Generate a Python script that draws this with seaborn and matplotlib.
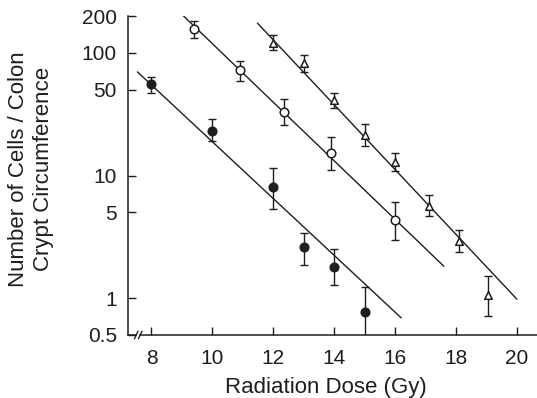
import matplotlib
matplotlib.use("Agg")
import matplotlib.pyplot as plt
from matplotlib.ticker import NullLocator
import numpy as np
import pandas as pd
import seaborn as sns

# Surviving cells per colon crypt circumference after irradiation
filled_dose = [8, 10, 12, 13, 14, 15]
filled_cells = [56, 23, 8.1, 2.6, 1.8, 0.77]
filled_lo = [47, 19, 5.3, 1.85, 1.27, 0.4]
filled_hi = [64, 29, 11.6, 3.4, 2.5, 1.23]

open_dose = [9.4, 10.9, 12.35, 13.9, 16.0]
open_cells = [157, 73, 33, 15.4, 4.3]
open_lo = [132, 59, 26, 11, 2.96]
open_hi = [182, 86, 42, 20.8, 6.1]

tri_dose = [12, 13, 14, 15, 16, 17.1, 18.1, 19.05]
tri_cells = [121, 83, 41.5, 21.5, 12.8, 5.6, 2.9, 1.06]
tri_lo = [106, 70, 35.7, 17.5, 10.8, 4.7, 2.37, 0.71]
tri_hi = [140, 96, 47, 26.5, 15.4, 6.9, 3.57, 1.51]

# Fitted survival lines (end points)
filled_fit_dose = [7.54, 16.2]
filled_fit_cells = [70, 0.69]
open_fit_dose = [8.89, 17.6]
open_fit_cells = [219, 1.82]
tri_fit_dose = [11.48, 20.0]
tri_fit_cells = [175, 0.98]

y_ticks = [0.5, 1, 5, 10, 50, 100, 200]
y_tick_labels = ["0.5", "1", "5", "10", "50", "100", "200"]
x_ticks = [8, 10, 12, 14, 16, 18, 20]

ink = "#1e1e1e"

sns.set_style("ticks")
plt.rcParams["font.family"] = ["Liberation Sans", "DejaVu Sans"]
plt.rcParams["text.color"] = ink
plt.rcParams["axes.edgecolor"] = ink
plt.rcParams["xtick.color"] = ink
plt.rcParams["ytick.color"] = ink

W, H = 537, 398
fig = plt.figure(figsize=(W / 100, H / 100), dpi=100)
ax = fig.add_axes([128 / W, 1 - 335 / H, 409 / W, 319 / H])

series = [
    (filled_dose, filled_cells, filled_lo, filled_hi, filled_fit_dose, filled_fit_cells, "o", ink, 38),
    (open_dose, open_cells, open_lo, open_hi, open_fit_dose, open_fit_cells, "o", "white", 38),
    (tri_dose, tri_cells, tri_lo, tri_hi, tri_fit_dose, tri_fit_cells, "^", "white", 30),
]

for dose, cells, lo, hi, fdose, fcells, mk, face, size in series:
    fit = pd.DataFrame({"dose": fdose, "cells": fcells})
    sns.lineplot(data=fit, x="dose", y="cells", ax=ax, color=ink,
                 linewidth=1.0, zorder=2, estimator=None, sort=True)
    cells_a = np.asarray(cells)
    yerr = np.vstack([cells_a - np.asarray(lo), np.asarray(hi) - cells_a])
    ax.errorbar(dose, cells, yerr=yerr, fmt="none", ecolor=ink,
                elinewidth=1.0, capsize=3.2, capthick=1.0, zorder=3,
                clip_on=True)
    pts = pd.DataFrame({"dose": dose, "cells": cells})
    sns.scatterplot(data=pts, x="dose", y="cells", ax=ax, marker=mk,
                    s=size, color=face, edgecolor=ink, linewidth=1.1,
                    zorder=4)

ax.set_yscale("log")
ax.set_ylim(0.5, 200)
ax.set_xlim(7.23, 20.66)
ax.set_yticks(y_ticks)
ax.set_yticklabels(y_tick_labels)
ax.yaxis.set_minor_locator(NullLocator())
ax.set_xticks(x_ticks)
ax.set_xticklabels([str(t) for t in x_ticks])

ax.tick_params(axis="both", direction="in", length=6, width=1.0,
               labelsize=15, pad=8)
ax.tick_params(axis="x", pad=10)
for side in ("top", "right"):
    ax.spines[side].set_visible(False)
for side in ("left", "bottom"):
    ax.spines[side].set_linewidth(1.1)

ax.set_xlabel("")
ax.set_ylabel("")

# Axis break on the dose axis
tr = ax.get_xaxis_transform()
ax.plot([7.53, 7.60], [0, 0], transform=tr, color="white", lw=3,
        clip_on=False, zorder=5, solid_capstyle="butt")
for xb in (7.50, 7.63):
    ax.plot([xb - 0.06, xb + 0.06], [-0.012, 0.012], transform=tr,
            color=ink, lw=1.0, clip_on=False, zorder=6)

fig.text(326 / W, 1 - 393 / H, "Radiation Dose (Gy)", ha="center",
         va="baseline", fontsize=16)
fig.text(31 / W, 1 - 169 / H, "Number of Cells / Colon\nCrypt Circumference",
         rotation=90, ha="center", va="center", multialignment="center",
         fontsize=16, linespacing=1.25)

fig.savefig("out.png", dpi=100, facecolor="white")
